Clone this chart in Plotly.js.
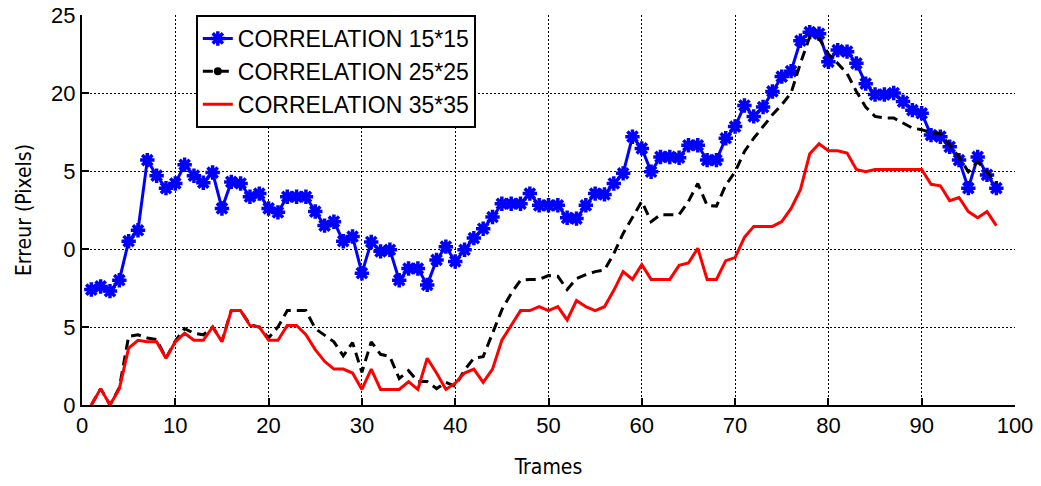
<!DOCTYPE html>
<html>
<head>
<meta charset="utf-8">
<script src="https://cdn.plot.ly/plotly-3.0.1.min.js"></script>
<style>html,body{margin:0;padding:0;background:#fff;}#chart{width:1041px;height:486px;}</style>
</head>
<body>
<div id="chart"></div>
<script>
var frames = [1,2,3,4,5,6,7,8,9,10,11,12,13,14,15,16,17,18,19,20,21,22,23,24,25,26,27,28,29,30,31,32,33,34,35,36,37,38,39,40,41,42,43,44,45,46,47,48,49,50,51,52,53,54,55,56,57,58,59,60,61,62,63,64,65,66,67,68,69,70,71,72,73,74,75,76,77,78,79,80,81,82,83,84,85,86,87,88,89,90,91,92,93,94,95,96,97,98];

var corr15 = [7.4,7.6,7.3,8.0,10.5,11.2,15.7,14.7,13.9,14.2,15.4,14.7,14.25,14.9,12.6,14.3,14.2,13.35,13.55,12.6,12.35,13.35,13.35,13.35,12.4,11.5,11.75,10.5,10.8,8.45,10.45,9.85,9.95,8.0,8.75,8.75,7.7,9.3,10.15,9.2,9.95,10.7,11.3,12.05,12.9,12.9,12.9,13.55,12.8,12.8,12.8,12.0,11.95,12.8,13.55,13.5,14.2,14.85,17.2,16.45,14.95,15.9,15.9,15.85,16.65,16.65,15.7,15.7,17.1,17.85,19.2,18.5,19.1,20.1,21.05,21.4,23.35,23.9,23.8,22.0,22.75,22.65,21.9,20.6,19.9,19.9,20.0,19.45,18.9,18.7,17.3,17.2,16.55,15.7,13.9,15.9,14.75,13.9];

var corr25 = [0,1.05,0,1.1,4.4,4.5,4.3,4.2,3.0,4.1,4.9,4.6,4.5,5.0,4.1,6.05,6.05,5.15,5.0,4.3,5.0,6.05,6.05,6.05,4.9,4.5,4.05,3.15,4.0,2.1,4.05,3.25,3.1,1.7,2.2,1.5,1.5,1.05,1.45,1.2,2.25,3.0,3.1,4.6,6.1,7.15,8.0,8.05,8.05,8.3,8.25,7.4,8.1,8.35,8.55,8.65,9.7,11.0,12.05,13.05,11.75,12.2,12.2,12.2,13.05,14.2,12.8,12.75,14.1,14.95,16.25,17.1,17.85,18.6,19.25,20.0,21.9,23.6,23.5,22.5,21.9,21.25,20.1,19.1,18.5,18.4,18.4,18.05,17.75,17.65,17.45,17.4,16.65,15.9,14.95,15.6,14.95,14.2];

var corr35 = [0,1.05,0,1.05,3.65,4.15,4.05,4.05,3.0,4.05,4.6,4.15,4.15,5.0,4.05,6.05,6.05,5.1,5.0,4.15,4.15,5.1,5.1,4.5,3.55,2.8,2.3,2.3,2.05,1.0,2.3,1.0,1.0,1.0,1.5,1.0,3.0,2.05,1.0,1.4,2.05,2.3,1.45,2.3,4.15,5.1,6.05,6.05,6.3,6.05,6.3,5.45,6.7,6.3,6.05,6.3,7.35,8.55,8.05,9.0,8.05,8.05,8.05,8.95,9.1,10.05,8.05,8.05,9.25,9.45,10.75,11.45,11.45,11.45,11.75,12.6,13.8,16.1,16.75,16.3,16.3,16.15,15.1,14.95,15.1,15.1,15.1,15.1,15.1,15.1,14.15,14.05,13.1,13.3,12.4,12.0,12.4,11.5];

var seriesNames = ['CORRELATION 15*15','CORRELATION 25*25','CORRELATION 35*35'];
var xTickVals = [0,10,20,30,40,50,60,70,80,90,100];
var yTickVals = [0,5,10,15,20,25];
var yTickText = ['0','5','0','5','20','25'];

var traces = [
  {x: frames, y: corr15, name: seriesNames[0], type: 'scatter', mode: 'lines+markers',
   line: {color: '#0000ff', width: 3},
   marker: {symbol: 'asterisk-open', size: 12, color: '#0000ff', line: {color: '#0000ff', width: 3.5}}},
  {x: frames, y: corr25, name: seriesNames[1], type: 'scatter', mode: 'lines', showlegend: false,
   line: {color: '#000000', width: 3, dash: '10px,6px'}},
  {x: [null], y: [null], name: seriesNames[1], type: 'scatter', mode: 'lines+markers',
   line: {color: '#000000', width: 3, dash: '10px,6px'},
   marker: {symbol: 'circle', size: 8, color: '#000000'}},
  {x: frames, y: corr35, name: seriesNames[2], type: 'scatter', mode: 'lines',
   line: {color: '#ff0000', width: 3}}
];

var tickFont = {family: 'Liberation Sans, Arial, sans-serif', size: 22, color: '#000'};
var titleFont = {family: 'DejaVu Sans Condensed, Liberation Sans Narrow, sans-serif', size: 21, color: '#000'};

var layout = {
  width: 1041, height: 486,
  margin: {l: 82, r: 26, t: 15, b: 81},
  paper_bgcolor: '#fff', plot_bgcolor: '#fff',
  showlegend: true,
  legend: {x: 0.122, y: 1, xanchor: 'left', yanchor: 'top',
    bgcolor: '#fff', bordercolor: '#000', borderwidth: 2,
    font: {family: 'Liberation Sans, Arial, sans-serif', size: 23, color: '#000'},
    entrywidth: 300, entrywidthmode: 'pixels',
    tracegroupgap: 0},
  xaxis: {range: [0, 100], tickvals: xTickVals, showgrid: true, gridcolor: '#000', gridwidth: 1, griddash: '2px,2px',
    zeroline: false, showline: true, linecolor: '#000', linewidth: 2, ticks: 'inside', ticklen: 7, tickcolor: '#000', tickwidth: 2,
    tickfont: tickFont, title: {text: 'Trames', font: titleFont, standoff: 22}},
  yaxis: {range: [0, 25], tickvals: yTickVals, ticktext: yTickText, showgrid: true, gridcolor: '#000', gridwidth: 1, griddash: '2px,2px',
    zeroline: false, showline: true, linecolor: '#000', linewidth: 2, ticks: 'inside', ticklen: 7, tickcolor: '#000', tickwidth: 2,
    tickfont: tickFont, title: {text: 'Erreur (Pixels)', font: titleFont, standoff: 14}}
};

Plotly.newPlot('chart', traces, layout, {displayModeBar: false, staticPlot: true});
</script>
</body>
</html>
